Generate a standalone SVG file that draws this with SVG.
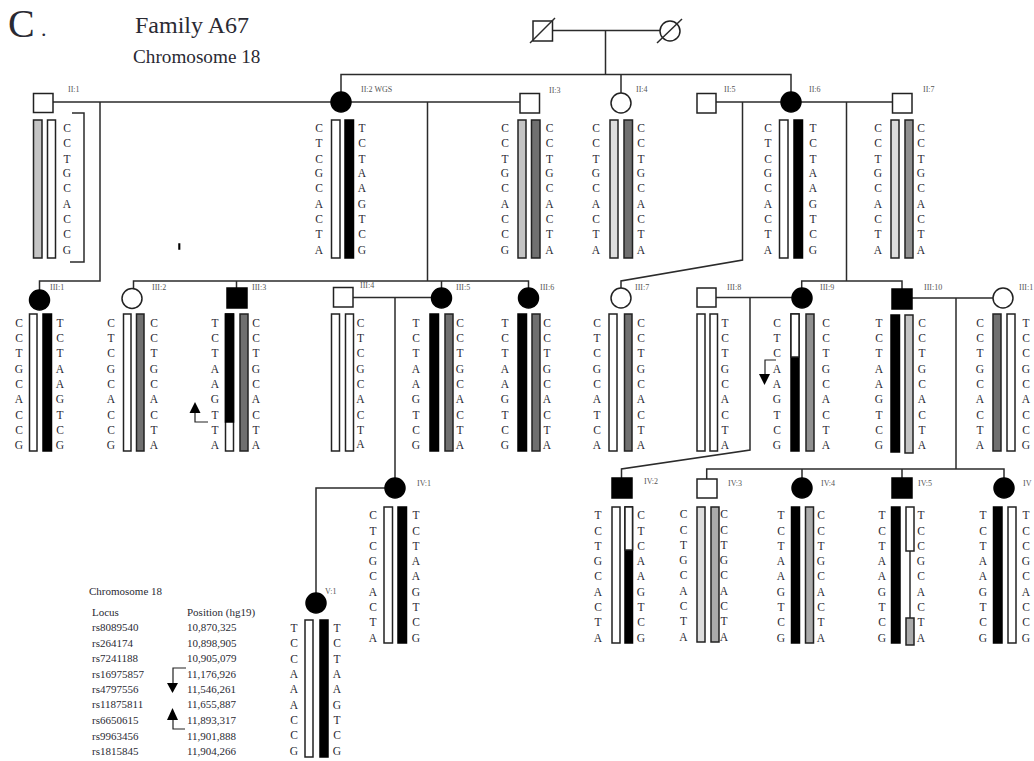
<svg xmlns="http://www.w3.org/2000/svg" width="1034" height="761" viewBox="0 0 1034 761">
<style>
text{font-family:"Liberation Serif","Times New Roman",serif;fill:#2a2a33}
.l{font-size:11.5px;text-anchor:middle}
.n{font-size:8px;fill:#555}
.t{font-size:11px}
.c{fill:none;stroke:#2b2b2b;stroke-width:1.5}
rect,circle{stroke:#222;stroke-width:1.5}
.w{fill:#fff}.k{fill:#000;stroke:#000}
.a{fill:#ddd}.b{fill:#c4c4c4}.d{fill:#aaa}.e{fill:#909090}.f{fill:#707070}
.s{fill:none;stroke:#222;stroke-width:1.2}
.h{fill:#000;stroke:none}
</style>
<g id="titles">
<text x="8" y="37" font-size="40">C</text><text x="41" y="36" font-size="22">.</text>
<text x="135" y="33" font-size="24">Family A67</text>
<text x="133" y="63" font-size="19.2">Chromosome 18</text>
<rect x="179" y="244" width="0.6" height="5" class="k"/>
</g>
<g id="connectors">
<path class="c" d="M552 30.500H660M605.500 30.500V74.500M341 92V74.500H791V92M621 74.500V93"/>
<path class="c" d="M53 102H332M100 102V281H39.500V291M351 102H520M427.500 102V281M133.500 290V281H528.500V289M236.500 281V288M441.500 281V288"/>
<path class="c" d="M716 102H781M742.500 102V260L621 281V289M801 102H892M846.500 102V281M801.700 289V281H902V289"/>
<path class="c" d="M353 297.500H432M395 297.500V479M385 488H316V594"/>
<path class="c" d="M716 297.500H792M750 297.500V450L621.500 469V478"/>
<path class="c" d="M912 298H993M956 298V469M706.700 479V469H1004V478M802 469V478M902 469V478"/>
<path class="c" d="M72 113H84V262H70"/>
</g>
<g id="I-1"><rect class="w" x="533" y="21" width="19.500" height="20"/><path class="c" d="M530 43L555 18"/></g>
<g id="I-2"><circle class="w" cx="670" cy="31" r="10"/><path class="c" d="M657 43L682 19"/></g>
<g id="II-1"><rect class="w" x="33.500" y="93.500" width="19.500" height="19"/><text class="n" x="68" y="92">II:1</text>
<rect class="b" x="33.500" y="120" width="8.500" height="138"/><rect class="w" x="47.500" y="120" width="8" height="138"/>
<text class="l" x="67 67 67 67 67 67 67 67 67" y="131.500 147 162.500 177 192 207.500 223 238 253.500">CCTGCACCG</text></g>
<g id="II-2"><circle class="k" cx="341" cy="102" r="10"/><text class="n" x="361" y="92">II:2 WGS</text>
<rect class="w" x="331.500" y="120" width="8.500" height="138"/><rect class="k" x="345" y="120" width="8.500" height="138"/>
<text class="l" x="319 319 319 319 319 319 319 319 319" y="131.500 147 162.500 177 192 207.500 223 238 253.500">CTCGCACTA</text><text class="l" x="362 362 362 362 362 362 362 362 362" y="131.500 147 162.500 177 192 207.500 223 238 253.500">TCTAAGTCG</text></g>
<g id="II-3"><rect class="w" x="520" y="93.500" width="19.500" height="19.500"/><text class="n" x="549" y="93">II:3</text>
<rect class="b" x="518" y="120" width="8" height="138"/><rect class="f" x="531.500" y="120" width="8.500" height="138"/>
<text class="l" x="505 505 505 505 505 505 505 505 505" y="131.500 147 162.500 177 192 207.500 223 238 253.500">CCTGCACCG</text><text class="l" x="549.500 549.500 549.500 549.500 549.500 549.500 549.500 549.500 549.500" y="131.500 147 162.500 177 192 207.500 223 238 253.500">CCTGCACTA</text></g>
<g id="II-4"><circle class="w" cx="621" cy="103" r="10"/><text class="n" x="636" y="92">II:4</text>
<rect class="a" x="610" y="120" width="8" height="138"/><rect class="f" x="624" y="120" width="8.500" height="138"/>
<text class="l" x="596 596 596 596 596 596 596 596 596" y="131.500 147 162.500 177 192 207.500 223 238 253.500">CCTGCACTA</text><text class="l" x="641 641 641 641 641 641 641 641 641" y="131.500 147 162.500 177 192 207.500 223 238 253.500">CCTGCACTA</text></g>
<g id="II-5"><rect class="w" x="697" y="93.500" width="19" height="19.500"/><text class="n" x="724" y="92">II:5</text></g>
<g id="II-6"><circle class="k" cx="791" cy="102" r="10"/><text class="n" x="809" y="92">II:6</text>
<rect class="w" x="779.500" y="120" width="8.500" height="138"/><rect class="k" x="794" y="120" width="8.500" height="138"/>
<text class="l" x="768 768 768 768 768 768 768 768 768" y="131.500 147 162.500 177 192 207.500 223 238 253.500">CTCGCACTA</text><text class="l" x="813 813 813 813 813 813 813 813 813" y="131.500 147 162.500 177 192 207.500 223 238 253.500">TCTAAGTCG</text></g>
<g id="II-7"><rect class="w" x="892.500" y="93.500" width="19.500" height="19.500"/><text class="n" x="923" y="92">II:7</text>
<rect class="a" x="891" y="120" width="8" height="138"/><rect class="e" x="905" y="120" width="8" height="138"/>
<text class="l" x="878 878 878 878 878 878 878 878 878" y="131.500 147 162.500 177 192 207.500 223 238 253.500">CCTGCACTA</text><text class="l" x="921 921 921 921 921 921 921 921 921" y="131.500 147 162.500 177 192 207.500 223 238 253.500">CCTGCACTA</text></g>
<g id="III-1"><circle class="k" cx="39.500" cy="300" r="10"/><text class="n" x="50" y="290">III:1</text>
<rect class="w" x="29.500" y="314" width="7.500" height="137"/><rect class="k" x="43" y="314" width="8.500" height="137"/>
<text class="l" x="19 19 19 19 19 19 19 19 19" y="326.500 342 357 372.500 388 403 418.500 434 449">CCTGCACCG</text><text class="l" x="60 60 60 60 60 60 60 60 60" y="326.500 342 357 372.500 388 403 418.500 434 449">TCTAAGTCG</text></g>
<g id="III-2"><circle class="w" cx="132" cy="298.500" r="10"/><text class="n" x="152" y="290">III:2</text>
<rect class="w" x="123.500" y="314" width="7.500" height="137"/><rect class="f" x="136.500" y="314" width="7.500" height="137"/>
<text class="l" x="111 111 111 111 111 111 111 111 111" y="326.500 342 357 372.500 388 403 418.500 434 449">CTCGCACCG</text><text class="l" x="154 154 154 154 154 154 154 154 154" y="326.500 342 357 372.500 388 403 418.500 434 449">CCTGCACTA</text></g>
<g id="III-3"><rect class="k" x="227" y="288" width="20" height="20"/><text class="n" x="252" y="290">III:3</text>
<rect class="w" x="225.500" y="314" width="8" height="137"/><rect class="k" x="225.500" y="314" width="8" height="108"/><rect class="f" x="240" y="314" width="8" height="137"/>
<text class="l" x="215 215 215 215 215 215 215 215 215" y="326.500 342 357 372.500 388 403 418.500 434 449">TCTAAGTTA</text><text class="l" x="256 256 256 256 256 256 256 256 256" y="326.500 342 357 372.500 388 403 418.500 434 449">CCTGCACTA</text>
<path class="s" d="M208 422H195V410"/><path class="h" d="M195 402L200.500 413H189.500Z"/></g>
<g id="III-4"><rect class="w" x="333.500" y="287.500" width="19.500" height="19.500"/><text class="n" x="360" y="288">III:4</text>
<rect class="w" x="331.500" y="314" width="8" height="137"/><rect class="w" x="345.500" y="314" width="8" height="137"/>
<text class="l" x="360.500 360.500 360.500 360.500 360.500 360.500 360.500 360.500 360.500" y="326.500 342 357 372.500 388 403 418.500 434 448">CTCGCACTA</text></g>
<g id="III-5"><circle class="k" cx="441.500" cy="298" r="10"/><text class="n" x="456" y="290">III:5</text>
<rect class="k" x="430" y="314" width="8.500" height="137"/><rect class="f" x="445" y="314" width="8" height="137"/>
<text class="l" x="416 416 416 416 416 416 416 416 416" y="326.500 342 357 372.500 388 403 418.500 434 449">TCTAAGTCG</text><text class="l" x="460 460 460 460 460 460 460 460 460" y="326.500 342 357 372.500 388 403 418.500 434 449">CCTGCACTA</text></g>
<g id="III-6"><circle class="k" cx="528.500" cy="298" r="10"/><text class="n" x="540" y="290">III:6</text>
<rect class="k" x="518" y="314" width="8.500" height="137"/><rect class="f" x="532" y="314" width="8" height="137"/>
<text class="l" x="505 505 505 505 505 505 505 505 505" y="326.500 342 357 372.500 388 403 418.500 434 449">TCTAAGTCG</text><text class="l" x="547 547 547 547 547 547 547 547 547" y="326.500 342 357 372.500 388 403 418.500 434 449">CCTGCACTA</text></g>
<g id="III-7"><circle class="w" cx="621" cy="298" r="10"/><text class="n" x="635" y="290">III:7</text>
<rect class="w" x="609" y="314" width="8" height="137"/><rect class="f" x="624.500" y="314" width="7.500" height="137"/>
<text class="l" x="597 597 597 597 597 597 597 597 597" y="326.500 342 357 372.500 388 403 418.500 434 449">CTCGCATCA</text><text class="l" x="641 641 641 641 641 641 641 641 641" y="326.500 342 357 372.500 388 403 418.500 434 449">CCTGCACTA</text></g>
<g id="III-8"><rect class="w" x="697" y="288" width="19" height="19"/><text class="n" x="727" y="290">III:8</text>
<rect class="w" x="697" y="314" width="8" height="137"/><rect class="w" x="710" y="314" width="7.500" height="137"/>
<text class="l" x="725 725 725 725 725 725 725 725 725" y="326.500 342 357 372.500 388 403 418.500 434 449">TCTGCACTA</text></g>
<g id="III-9"><circle class="k" cx="802" cy="298" r="10"/><text class="n" x="820" y="290">III:9</text>
<rect class="k" x="791" y="314" width="8" height="137"/><rect class="w" x="791" y="314" width="8" height="43"/><rect class="e" x="806" y="314" width="8" height="137"/>
<text class="l" x="777 777 777 777 777 777 777 777 777" y="326.500 342 357 372.500 388 403 418.500 434 449">CTCAAGTCG</text><text class="l" x="826 826 826 826 826 826 826 826 826" y="326.500 342 357 372.500 388 403 418.500 434 449">CCTGCACTA</text>
<path class="s" d="M776 360H765V376"/><path class="h" d="M759 374H770L764.500 385Z"/></g>
<g id="III-10"><rect class="k" x="892" y="289" width="20" height="20"/><text class="n" x="924" y="290">III:10</text>
<rect class="k" x="891" y="315" width="8.500" height="137"/><rect class="b" x="905" y="315" width="8" height="138"/>
<text class="l" x="879 879 879 879 879 879 879 879 879" y="326.500 342 357 372.500 388 403 418.500 434 449">TCTAAGTCG</text><text class="l" x="922 922 922 922 922 922 922 922 922" y="326.500 342 357 372.500 388 403 418.500 434 449">CCTGCACTA</text></g>
<g id="III-11"><circle class="w" cx="1003" cy="298" r="10"/><text class="n" x="1019" y="290">III:1</text>
<rect class="f" x="993" y="314" width="8" height="137"/><rect class="w" x="1007" y="314" width="8" height="137"/>
<text class="l" x="980 980 980 980 980 980 980 980 980" y="326.500 342 357 372.500 388 403 418.500 434 449">CCTGCACTA</text><text class="l" x="1026 1026 1026 1026 1026 1026 1026 1026 1026" y="326.500 342 357 372.500 388 403 418.500 434 449">TCCGCACCG</text></g>
<g id="IV-1"><circle class="k" cx="395" cy="488" r="10"/><text class="n" x="417" y="486">IV:1</text>
<rect class="w" x="384" y="507" width="8.500" height="136"/><rect class="k" x="398" y="507" width="8.500" height="136"/>
<text class="l" x="373 373 373 373 373 373 373 373 373" y="519 534.500 550 565 580 596 611 626 642">CTCGCACTA</text><text class="l" x="416 416 416 416 416 416 416 416 416" y="519 534.500 550 565 580 596 611 626 642">TCTAAGTCG</text></g>
<g id="IV-2"><rect class="k" x="612" y="478" width="20" height="20"/><text class="n" x="644" y="484">IV:2</text>
<rect class="w" x="612" y="507" width="8" height="136"/><rect class="k" x="625" y="507" width="7.500" height="136"/><rect class="w" x="625" y="507" width="7.500" height="43"/>
<text class="l" x="598 598 598 598 598 598 598 598 598" y="519 534.500 550 565 580 596 611 626 642">TCTGCACTA</text><text class="l" x="641 641 641 641 641 641 641 641 641" y="519 534.500 550 565 580 596 611 626 642">CTCAAGTCG</text></g>
<g id="IV-3"><rect class="w" x="697" y="479" width="20" height="19"/><text class="n" x="728" y="486">IV:3</text>
<rect class="a" x="697" y="507" width="8" height="135"/><rect class="d" x="711" y="507" width="8" height="135"/>
<text class="l" x="683.500 683.500 683.500 683.500 683.500 683.500 683.500 683.500 683.500" y="518 533.500 549 564 579 595 610 625 641">CCTGCACTA</text><text class="l" x="724 724 724 724 724 724 724 724 724" y="518 533.500 549 564 579 595 610 625 641">CCTGCACTA</text></g>
<g id="IV-4"><circle class="k" cx="802" cy="488" r="10"/><text class="n" x="821" y="486">IV:4</text>
<rect class="k" x="791.500" y="507" width="8" height="136"/><rect class="d" x="805.500" y="507" width="8" height="136"/>
<text class="l" x="781 781 781 781 781 781 781 781 781" y="519 534.500 550 565 580 596 611 626 642">TCTAAGTCG</text><text class="l" x="821 821 821 821 821 821 821 821 821" y="519 534.500 550 565 580 596 611 626 642">CCTGCACTA</text></g>
<g id="IV-5"><rect class="k" x="892" y="478" width="20" height="20"/><text class="n" x="918" y="486">IV:5</text>
<rect class="k" x="891.500" y="507" width="8.500" height="136"/><path class="c" d="M910 551V618"/><rect class="w" x="906" y="507" width="8" height="44"/><rect class="d" x="906" y="618" width="8" height="27"/>
<text class="l" x="882 882 882 882 882 882 882 882 882" y="519 534.500 550 565 580 596 611 626 642">TCTAAGTCG</text><text class="l" x="921 921 921 921 921 921 921 921 921" y="519 534.500 550 565 580 596 611 626 642">TCCGCACTA</text></g>
<g id="IV-6"><circle class="k" cx="1004" cy="488" r="10"/><text class="n" x="1023" y="486">IV</text>
<rect class="k" x="993.500" y="507" width="8.500" height="136"/><rect class="w" x="1008" y="507" width="8" height="136"/>
<text class="l" x="983 983 983 983 983 983 983 983 983" y="519 534.500 550 565 580 596 611 626 642">TCTAAGTCG</text><text class="l" x="1026 1026 1026 1026 1026 1026 1026 1026 1026" y="519 534.500 550 565 580 596 611 626 642">TCCGCACCG</text></g>
<g id="V-1"><circle class="k" cx="316" cy="603" r="10"/><text class="n" x="325" y="594">V:1</text>
<rect class="w" x="305" y="620" width="8" height="137"/><rect class="k" x="320" y="620" width="8" height="137"/>
<text class="l" x="294 294 294 294 294 294 294 294 294" y="631.500 647 662.500 677.500 693 708.500 724 739 755">TCCAAACCG</text><text class="l" x="337 337 337 337 337 337 337 337 337" y="631.500 647 662.500 677.500 693 708.500 724 739 755">TCTAAGTCG</text></g>
<g id="legend">
<text class="t" x="89" y="595">Chromosome 18</text>
<text class="t" x="92" y="616">Locus</text><text class="t" x="187" y="616">Position (hg19)</text>
<text class="t" x="92" y="631">rs8089540</text><text class="t" x="187" y="631">10,870,325</text>
<text class="t" x="92" y="646.500">rs264174</text><text class="t" x="187" y="646.500">10,898,905</text>
<text class="t" x="92" y="662">rs7241188</text><text class="t" x="187" y="662">10,905,079</text>
<text class="t" x="92" y="677.500">rs16975857</text><text class="t" x="187" y="677.500">11,176,926</text>
<text class="t" x="92" y="693">rs4797556</text><text class="t" x="187" y="693">11,546,261</text>
<text class="t" x="92" y="708">rs11875811</text><text class="t" x="187" y="708">11,655,887</text>
<text class="t" x="92" y="724">rs6650615</text><text class="t" x="187" y="724">11,893,317</text>
<text class="t" x="92" y="739.500">rs9963456</text><text class="t" x="187" y="739.500">11,901,888</text>
<text class="t" x="92" y="754.500">rs1815845</text><text class="t" x="187" y="754.500">11,904,266</text>
<path class="s" d="M186 668H173V685"/><path class="h" d="M167 683H178L172.500 693Z"/>
<path class="s" d="M185 729H173V716"/><path class="h" d="M172.500 708L178 720H167Z"/>
</g>
</svg>
